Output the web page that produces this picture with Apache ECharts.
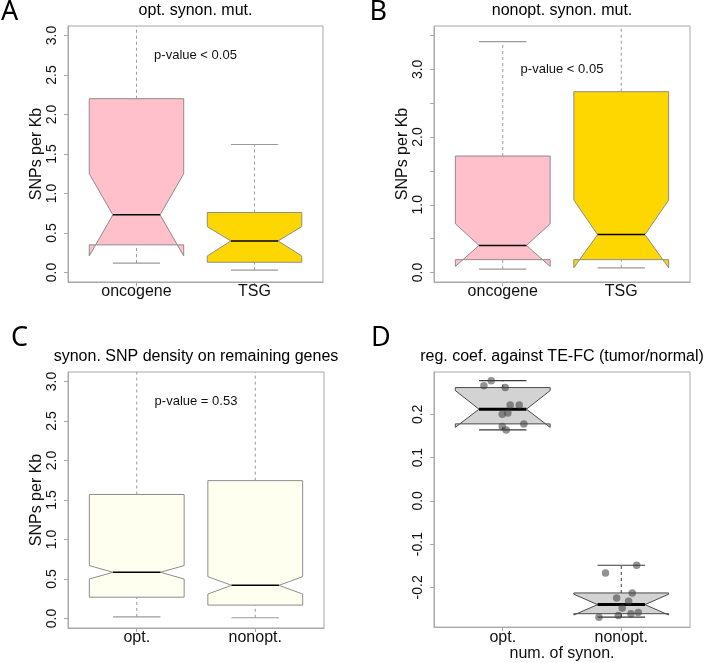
<!DOCTYPE html>
<html lang="en">
<head>
	<meta charset="UTF-8">
	<title>SNP density boxplots</title>
	<script src="https://cdn.jsdelivr.net/npm/echarts@6/dist/echarts.min.js"></script>
	<style>
		* {
			margin: 0;
			padding: 0;
		}

		#container {
			width: 709px;
			height: 663px;
		}
	</style>
</head>
<body>
<div id="container"></div>
<script type="text/javascript">
	var genes = ['oncogene', 'TSG'];
	var codons = ['opt.', 'nonopt.'];

	// one box = [lower whisker, Q1, notch low, median, notch high, Q3, upper whisker]
	var statsA = [[0.12, 0.35, 0.21, 0.73, 1.25, 2.20, 3.40], [0.03, 0.13, 0.21, 0.40, 0.58, 0.76, 1.62]];
	var statsB = [[0.05, 0.19, 0.09, 0.40, 0.72, 1.72, 3.41], [0.07, 0.19, 0.07, 0.56, 1.07, 2.67, 4.00]];
	var statsC = [[0.02, 0.27, 0.50, 0.585, 0.67, 1.57, 3.40], [0.01, 0.17, 0.31, 0.42, 0.53, 1.745, 3.40]];
	var statsD = [[0.164, 0.178, 0.170, 0.212, 0.255, 0.262, 0.278], [-0.269, -0.261, -0.264, -0.240, -0.216, -0.213, -0.149]];

	// panel D jittered points: [x (1 = opt., 2 = nonopt.), coefficient]
	var pointsOpt = [[0.841, 0.266], [0.903, 0.278], [1.021, 0.262], [1.063, 0.2215], [1.139, 0.2215],
		[0.996, 0.200], [1.043, 0.203], [1.178, 0.178], [0.996, 0.172], [1.029, 0.164]];
	var pointsNonopt = [[2.130, -0.149], [1.867, -0.167], [2.093, -0.213], [1.961, -0.2246], [2.062, -0.232],
		[2.008, -0.2477], [2.143, -0.258], [2.082, -0.261], [1.975, -0.265], [1.812, -0.269]];

	var pValues = ['p-value < 0.05', 'p-value < 0.05', 'p-value = 0.53'];

	var ticksSNP = [0, 0.5, 1, 1.5, 2, 2.5, 3];
	var ticksSNPB = [0, 0.5, 1, 1.5, 2, 2.5, 3, 3.5];
	var labelsSNPB = [0, 1, 2, 3];
	var ticksCoef = [-0.2, -0.1, 0, 0.1, 0.2];

	var myChart = echarts.init(document.getElementById('container'));

	var FONT = '"Liberation Sans", Arial, sans-serif';
	var frameColor = '#a8a8a8';

	function xAxisFor(i, cats, name) {
		return {
			type: 'value', gridIndex: i, min: 0.42, max: 2.58,
			name: name || '', nameLocation: 'middle', nameGap: 14,
			nameTextStyle: {fontFamily: FONT, fontSize: 16, color: '#111'},
			splitLine: {show: false},
			axisLine: {show: true, onZero: false, lineStyle: {color: frameColor}},
			axisTick: {show: true, length: 4, customValues: [1, 2], lineStyle: {color: frameColor}},
			axisLabel: {
				customValues: [1, 2], margin: 2, fontFamily: FONT, fontSize: 16, color: '#111',
				formatter: function (v) { return cats[Math.round(v) - 1]; }
			}
		};
	}

	function yAxisFor(i, min, max, ticks, labels, name) {
		return {
			type: 'value', gridIndex: i, min: min, max: max,
			name: name || '', nameLocation: 'middle', nameGap: 23,
			nameTextStyle: {fontFamily: FONT, fontSize: 16, color: '#111'},
			splitLine: {show: false},
			axisLine: {show: true, onZero: false, lineStyle: {color: frameColor}},
			axisTick: {show: true, length: 4, customValues: ticks, lineStyle: {color: frameColor}},
			axisLabel: {
				customValues: labels, rotate: 90, margin: 9, fontFamily: FONT, fontSize: 14, color: '#111',
				formatter: function (v) { return v.toFixed(1); }
			}
		};
	}

	// R style notched box drawn through the axis scales
	function boxRenderer(fills, edge, whisk, medWidth) {
		return function (params, api) {
			var x = api.value(0), w = 0.4;
			var lo = api.value(1), q1 = api.value(2), nlo = api.value(3), med = api.value(4),
					nhi = api.value(5), q3 = api.value(6), hi = api.value(7);
			function p(dx, y) { return api.coord([x + dx, y]); }
			var poly = [p(-w, q1), p(w, q1), p(w, nlo), p(w / 2, med), p(w, nhi), p(w, q3),
				p(-w, q3), p(-w, nhi), p(-w / 2, med), p(-w, nlo)];
			function seg(a, b, style) {
				return {type: 'line', shape: {x1: a[0], y1: a[1], x2: b[0], y2: b[1]}, style: style};
			}
			var dashStyle = {stroke: whisk, lineWidth: 1, lineDash: [3, 3]};
			var capStyle = {stroke: whisk, lineWidth: 1.2};
			return {
				type: 'group',
				children: [
					{type: 'polygon', shape: {points: poly}, style: {fill: fills[params.dataIndex], stroke: edge, lineWidth: 1}},
					seg(p(0, lo), p(0, q1), dashStyle),
					seg(p(0, q3), p(0, hi), dashStyle),
					seg(p(-0.2, lo), p(0.2, lo), capStyle),
					seg(p(-0.2, hi), p(0.2, hi), capStyle),
					seg(p(-w / 2, med), p(w / 2, med), {stroke: '#000', lineWidth: medWidth})
				]
			};
		};
	}

	function boxSeries(i, stats, fills, edge, whisk, medWidth) {
		return {
			type: 'custom', xAxisIndex: i, yAxisIndex: i, clip: true, silent: true,
			renderItem: boxRenderer(fills, edge, whisk, medWidth),
			data: stats.map(function (s, k) { return [k + 1].concat(s); })
		};
	}

	function pSeries(i, x, y, text) {
		return {
			type: 'custom', xAxisIndex: i, yAxisIndex: i, silent: true,
			renderItem: function (params, api) {
				var c = api.coord([api.value(0), api.value(1)]);
				return {
					type: 'text', x: c[0], y: c[1],
					style: {text: text, fill: '#111', font: '13px ' + FONT, align: 'center', verticalAlign: 'middle'}
				};
			},
			data: [[x, y]]
		};
	}

	function label(text, x, y, size, family) {
		return {
			type: 'text', x: x, y: y,
			style: {text: text, fill: '#000', font: size + 'px ' + family, textAlign: 'center', textVerticalAlign: 'middle'}
		};
	}

	function letter(text, x, y) {
		return {
			type: 'text', x: x, y: y,
			style: {text: text, fill: '#000', font: '27px "Noto Sans", sans-serif', textAlign: 'left', textVerticalAlign: 'middle'}
		};
	}

	var option = {
		animation: false,
		grid: [
			{left: 68, top: 26, width: 255, height: 256, show: true, borderColor: frameColor, borderWidth: 1},
			{left: 434, top: 26, width: 256, height: 256, show: true, borderColor: frameColor, borderWidth: 1},
			{left: 68, top: 372, width: 256, height: 256, show: true, borderColor: frameColor, borderWidth: 1},
			{left: 434, top: 372, width: 256, height: 256, show: true, borderColor: frameColor, borderWidth: 1}
		],
		xAxis: [
			xAxisFor(0, genes),
			xAxisFor(1, genes),
			xAxisFor(2, codons),
			xAxisFor(3, codons, 'num. of synon.')
		],
		yAxis: [
			yAxisFor(0, -0.12, 3.12, ticksSNP, ticksSNP, 'SNPs per Kb'),
			yAxisFor(1, -0.14, 3.64, ticksSNPB, labelsSNPB, 'SNPs per Kb'),
			yAxisFor(2, -0.12, 3.12, ticksSNP, ticksSNP, 'SNPs per Kb'),
			yAxisFor(3, -0.292, 0.298, ticksCoef, ticksCoef)
		],
		graphic: [
			letter('A', 1, 12.5),
			letter('B', 369.5, 12.5),
			letter('C', 11, 338),
			letter('D', 371, 338),
			label('opt. synon. mut.', 195.5, 10.5, 16, FONT),
			label('nonopt. synon. mut.', 562, 10.5, 16, FONT),
			label('synon. SNP density on remaining genes', 196, 356.5, 16, FONT),
			label('reg. coef. against TE-FC (tumor/normal)', 562, 356.5, 16, FONT)
		],
		series: [
			boxSeries(0, statsA, ['#FFC0CB', '#FFD700'], '#8c8c8c', '#9a9a9a', 1.5),
			boxSeries(1, statsB, ['#FFC0CB', '#FFD700'], '#8c8c8c', '#9a9a9a', 1.5),
			boxSeries(2, statsC, ['#FFFFF0', '#FFFFF0'], '#8c8c8c', '#9a9a9a', 1.5),
			boxSeries(3, statsD, ['#D3D3D3', '#D3D3D3'], '#4a4a4a', '#3a3a3a', 3),
			pSeries(0, 1.5, 2.75, pValues[0]),
			pSeries(1, 1.5, 3.0, pValues[1]),
			pSeries(2, 1.5, 2.75, pValues[2]),
			{
				type: 'scatter', xAxisIndex: 3, yAxisIndex: 3, symbolSize: 7.5, silent: true,
				itemStyle: {color: 'rgba(60,60,60,0.7)'},
				data: pointsOpt
			},
			{
				type: 'scatter', xAxisIndex: 3, yAxisIndex: 3, symbolSize: 7.5, silent: true,
				itemStyle: {color: 'rgba(60,60,60,0.7)'},
				data: pointsNonopt
			}
		]
	};

	myChart.setOption(option);
</script>
</body>
</html>
